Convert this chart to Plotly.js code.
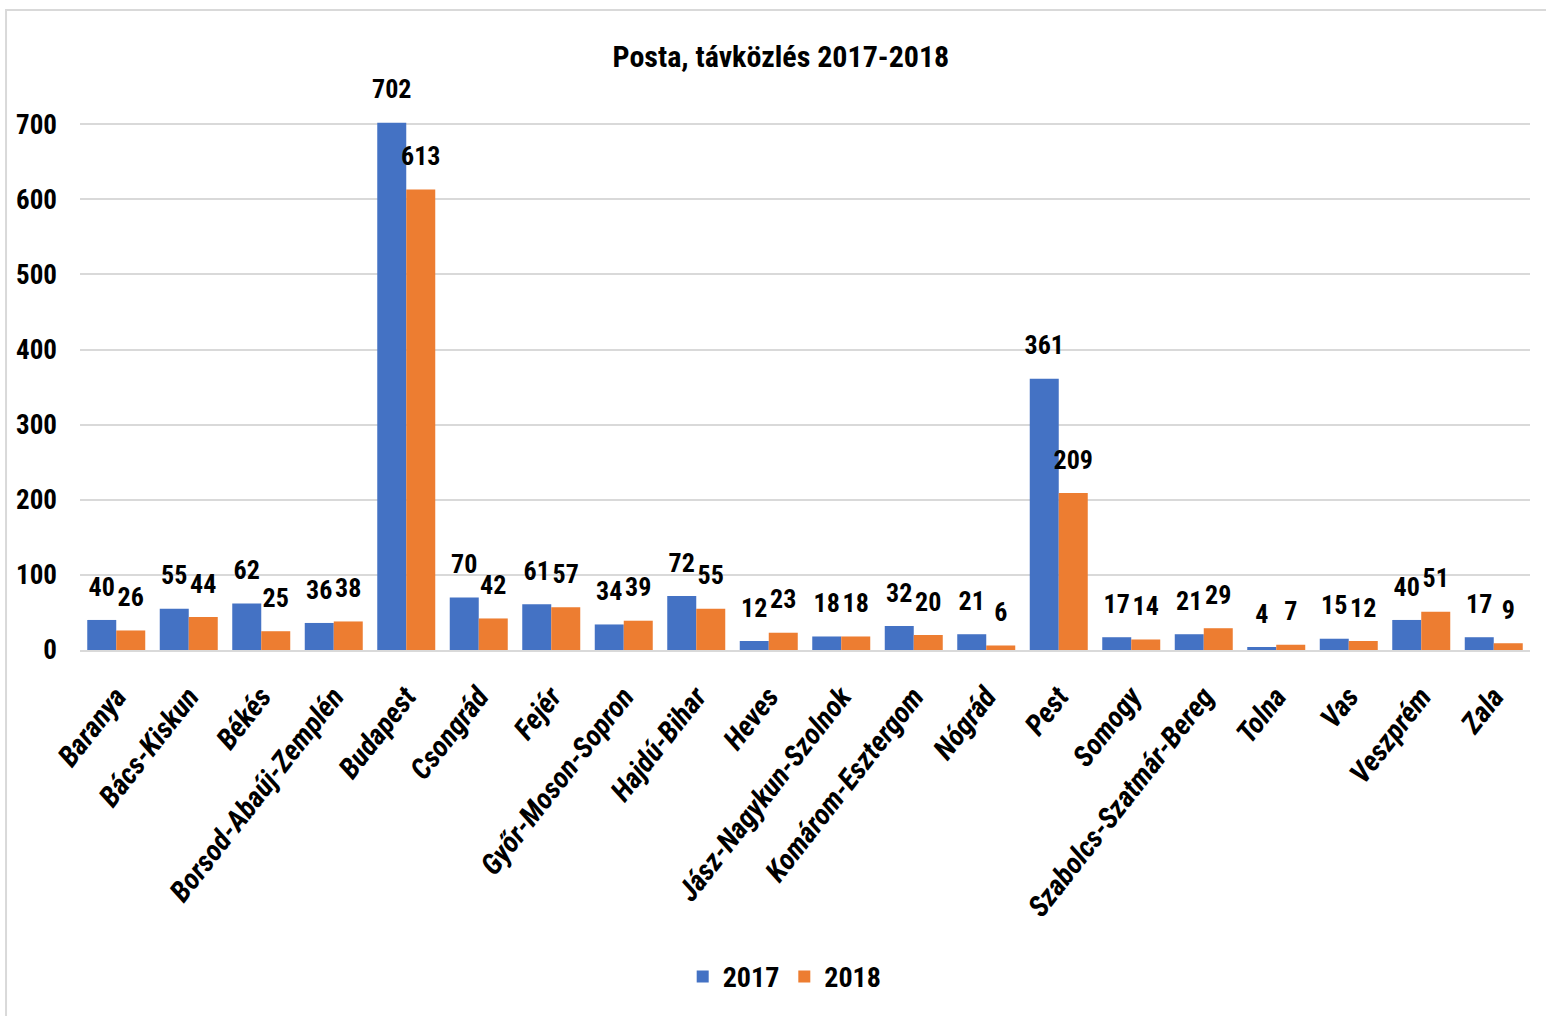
<!DOCTYPE html>
<html>
<head>
<meta charset="utf-8">
<script src="https://cdn.plot.ly/plotly-3.0.1.min.js"></script>
<style>html,body{margin:0;padding:0;background:#fff;}#chart{width:1546px;height:1016px;}</style>
</head>
<body>
<div id="chart"></div>
<script>
const categories = ["Baranya","Bács-Kiskun","Békés","Borsod-Abaúj-Zemplén","Budapest","Csongrád","Fejér","Győr-Moson-Sopron","Hajdú-Bihar","Heves","Jász-Nagykun-Szolnok","Komárom-Esztergom","Nógrád","Pest","Somogy","Szabolcs-Szatmár-Bereg","Tolna","Vas","Veszprém","Zala"];
const values2017 = [40,55,62,36,702,70,61,34,72,12,18,32,21,361,17,21,4,15,40,17];
const values2018 = [26,44,25,38,613,42,57,39,55,23,18,20,6,209,14,29,7,12,51,9];
const seriesNames = ["2017","2018"];
const yTicks = [0,100,200,300,400,500,600,700];
const titleText = "Posta, távközlés 2017-2018";

const FONT = '"Liberation Sans Narrow", "Roboto Condensed", "Arial Narrow", sans-serif';

function mkBar(name, vals, color) {
  return {
    type: 'bar', name: name, x: categories, y: vals,
    marker: {color: color, line: {width: 0}},
    offsetgroup: name,
    hoverinfo: 'x+y'
  };
}
function mkLabels(name, vals) {
  return {
    type: 'scatter', mode: 'markers+text', name: name + ' labels', x: categories, y: vals,
    offsetgroup: name, showlegend: false, cliponaxis: false,
    marker: {size: 27, opacity: 0, color: '#fff'},
    text: vals.map(String), textposition: 'top center',
    textfont: {family: FONT, size: 26, color: '#000', weight: 'bold'},
    hoverinfo: 'skip'
  };
}

const data = [
  mkBar(seriesNames[0], values2017, '#4472C4'),
  mkBar(seriesNames[1], values2018, '#ED7D31'),
  mkLabels(seriesNames[0], values2017),
  mkLabels(seriesNames[1], values2018)
];

const layout = {
  width: 1546, height: 1016,
  margin: {l: 80, r: 16, t: 122, b: 366},
  paper_bgcolor: '#fff', plot_bgcolor: '#fff',
  barmode: 'group', bargap: 0.2, bargroupgap: 0,
  scattermode: 'group', scattergap: 0.2,
  font: {family: FONT, color: '#000'},
  title: {text: '<b>' + titleText + '</b>', x: 0.4834, xref: 'paper', xanchor: 'center', y: 0.944, yref: 'container', yanchor: 'middle', font: {family: FONT, size: 30, color: '#000'}},
  xaxis: {
    tickangle: -52, tickfont: {family: FONT, size: 29, color: '#000', weight: 'bold', style: 'italic'},
    showgrid: false, showline: true, linecolor: '#d9d9d9', linewidth: 2, ticks: '', automargin: false,
    ticklabelstandoff: 16
  },
  yaxis: {
    range: [0, 703], tickvals: yTicks, ticktext: yTicks.map(String),
    tickfont: {family: FONT, size: 27, color: '#000', weight: 'bold'},
    showgrid: true, gridcolor: '#d9d9d9', gridwidth: 2, zeroline: false,
    showline: false, ticks: '', ticklabelstandoff: 22, automargin: false
  },
  legend: {orientation: 'h', x: 0.486, xanchor: 'center', y: -0.619, yanchor: 'middle',
    font: {family: FONT, size: 28, color: '#000', weight: 'bold'}, itemwidth: 30, traceorder: 'normal'},
  shapes: [{type: 'rect', xref: 'paper', yref: 'paper', x0: -0.051, x1: 1.1, y0: -1, y1: 1.212, line: {color: '#d9d9d9', width: 2}, fillcolor: 'rgba(0,0,0,0)', layer: 'below'}]
};

Plotly.newPlot('chart', data, layout, {displayModeBar: false, staticPlot: true});
</script>
</body>
</html>
